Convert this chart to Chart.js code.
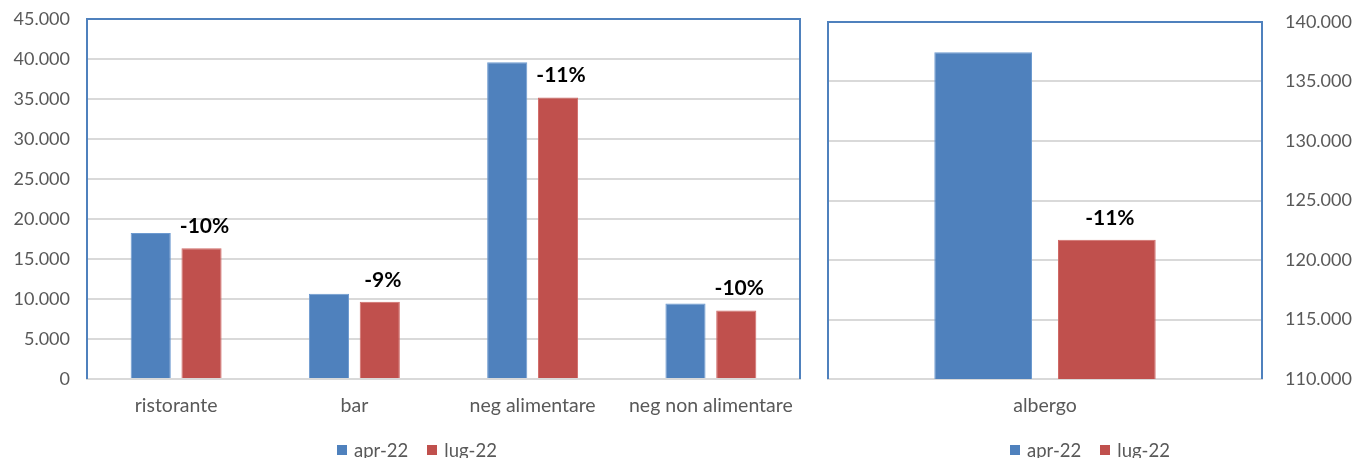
<!DOCTYPE html>
<html>
<head>
<meta charset="utf-8">
<script src="https://cdn.jsdelivr.net/npm/chart.js@4.4.0/dist/chart.umd.min.js"></script>
<style>
  body { margin: 0; background: #fff; }
  #wrap { position: relative; width: 1355px; height: 458px; overflow: hidden; font-family: Lato, "Open Sans", sans-serif; }
  .box { position: absolute; top: 0; }
  .legend { position: absolute; top: 439px; display: flex; align-items: center; font-size: 18.5px; color: #595959; white-space: nowrap; }
  .legend span.sq { display: inline-block; width: 10px; height: 10px; margin-right: 7px; }
  .legend span.item { display: flex; align-items: center; margin-right: 19px; }
</style>
</head>
<body>
<div id="wrap">
  <div class="box" style="left:0;width:815px;height:458px"><canvas id="leftChart" width="815" height="458"></canvas></div>
  <div class="box" style="left:815px;width:540px;height:458px"><canvas id="rightChart" width="540" height="458"></canvas></div>
  <div class="legend" style="left:337px">
    <span class="item"><span class="sq" style="background:#4F81BD"></span>apr-22</span>
    <span class="item"><span class="sq" style="background:#C0504D"></span>lug-22</span>
  </div>
  <div class="legend" style="left:1010px">
    <span class="item"><span class="sq" style="background:#4F81BD"></span>apr-22</span>
    <span class="item"><span class="sq" style="background:#C0504D"></span>lug-22</span>
  </div>
</div>
<script>
// data
var seriesNames = ['apr-22', 'lug-22'];
var categories = ['ristorante', 'bar', 'neg alimentare', 'neg non alimentare'];
var aprValues = [18250, 10650, 39600, 9450];
var lugValues = [16350, 9650, 35200, 8550];
var changeLabels = ['-10%', '-9%', '-11%', '-10%'];

var hotelCategories = ['albergo'];
var hotelApr = [137450];
var hotelLug = [121700];
var hotelChange = ['-11%'];

var blue = '#4F81BD';
var red = '#C0504D';
var gridColor = '#D9D9D9';
var tickColor = '#595959';
var fontName = 'Lato, "Open Sans", sans-serif';

function fmt(v) {
  // italian thousands separator
  return String(v).replace(/\B(?=(\d{3})+(?!\d))/g, '.');
}

// blue frame on left, top and right of the plot area
var framePlugin = {
  id: 'frame',
  afterDatasetsDraw: function(chart) {
    var a = chart.chartArea;
    var ctx = chart.ctx;
    ctx.save();
    ctx.strokeStyle = blue;
    ctx.lineWidth = 2;
    ctx.beginPath();
    ctx.moveTo(a.left, a.bottom);
    ctx.lineTo(a.left, a.top);
    ctx.lineTo(a.right, a.top);
    ctx.lineTo(a.right, a.bottom);
    ctx.stroke();
    ctx.restore();
  }
};

// percentage change above the second bar of each group
var changePlugin = {
  id: 'change',
  afterDatasetsDraw: function(chart, args, opts) {
    var meta = chart.getDatasetMeta(1);
    var ctx = chart.ctx;
    ctx.save();
    ctx.fillStyle = '#000';
    ctx.font = 'bold 21px ' + fontName;
    ctx.textAlign = 'center';
    ctx.textBaseline = 'middle';
    meta.data.forEach(function(bar, i) {
      ctx.fillText(opts.labels[i], bar.x + 3, bar.y - 22);
    });
    ctx.restore();
  }
};

function makeChart(id, labels, a, b, changes, yOpts, pad, yWidth) {
  var ctx = document.getElementById(id).getContext('2d');
  return new Chart(ctx, {
    type: 'bar',
    data: {
      labels: labels,
      datasets: [{
        label: seriesNames[0],
        data: a,
        backgroundColor: blue,
        borderColor: '#6d9ad0',
        borderWidth: 1,
        categoryPercentage: 0.57,
        barPercentage: 0.79
      }, {
        label: seriesNames[1],
        data: b,
        backgroundColor: red,
        borderColor: '#d06a67',
        borderWidth: 1,
        categoryPercentage: 0.57,
        barPercentage: 0.79
      }]
    },
    options: {
      responsive: false,
      animation: false,
      layout: { padding: pad },
      plugins: {
        legend: { display: false },
        tooltip: { enabled: false },
        change: { labels: changes }
      },
      scales: {
        x: {
          grid: { display: false, drawTicks: false },
          border: { color: gridColor, width: 2 },
          ticks: { color: tickColor, font: { family: fontName, size: 19.5 }, padding: 15 },
          afterFit: function(s) { s.height = 79; }
        },
        y: {
          position: yOpts.position,
          min: yOpts.min,
          max: yOpts.max,
          grid: { color: gridColor, lineWidth: 2, drawTicks: false },
          border: { display: false },
          ticks: {
            stepSize: 5000,
            color: tickColor,
            font: { family: fontName, size: 18 },
            padding: yOpts.padding,
            callback: function(v) { return fmt(v); }
          },
          afterFit: function(s) {
            s.width = yWidth;
            s.paddingTop = 0;
            s.paddingBottom = 0;
          }
        }
      }
    },
    plugins: [framePlugin, changePlugin]
  });
}

makeChart('leftChart', categories, aprValues, lugValues, changeLabels,
  { position: 'left', min: 0, max: 45000, padding: 17 },
  { top: 19, right: 15, left: 0, bottom: 0 }, 87);

makeChart('rightChart', hotelCategories, hotelApr, hotelLug, hotelChange,
  { position: 'right', min: 110000, max: 140000, padding: 23 },
  { top: 22, right: 0, left: 13, bottom: 0 }, 93);
</script>
</body>
</html>
